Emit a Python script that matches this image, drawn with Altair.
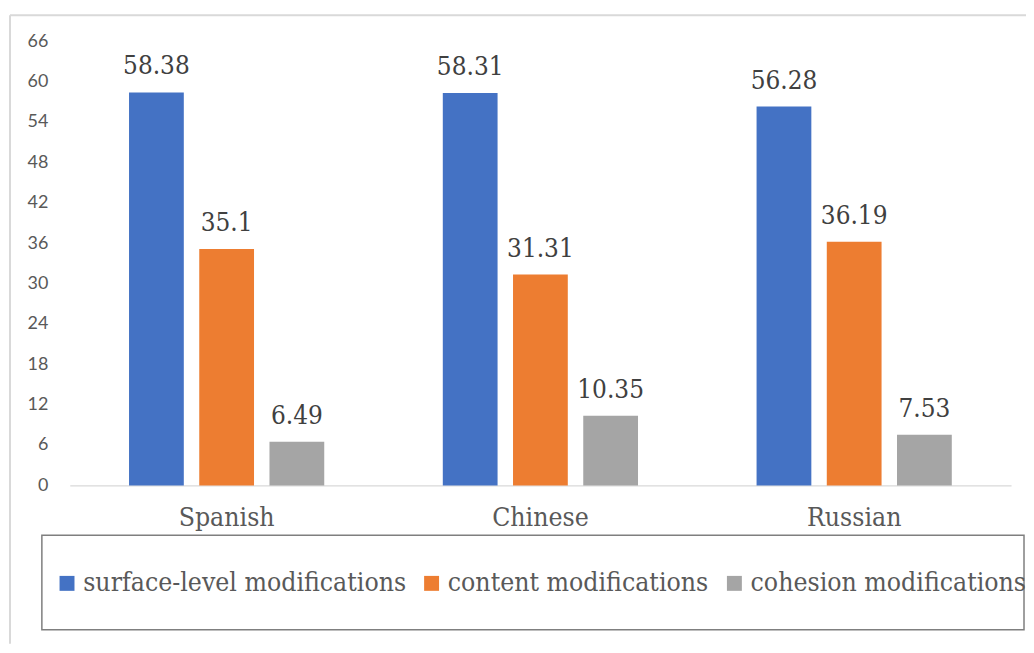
import altair as alt
import pandas as pd

languages = ["Spanish", "Chinese", "Russian"]
series = ["surface-level modifications", "content modifications", "cohesion modifications"]
surface = [58.38, 58.31, 56.28]
content = [35.1, 31.31, 36.19]
cohesion = [6.49, 10.35, 7.53]
colors = ["#4472C4", "#ED7D31", "#A5A5A5"]
y_ticks = [0, 6, 12, 18, 24, 30, 36, 42, 48, 54, 60, 66]

rows = []
for s, vals in zip(series, [surface, content, cohesion]):
    for lang, v in zip(languages, vals):
        rows.append({"language": lang, "series": s, "value": v, "label": str(v)})
df = pd.DataFrame(rows)

SERIF = "'DejaVu Serif Condensed', 'DejaVu Serif'"

x_enc = alt.X("language:N", sort=languages,
              scale=alt.Scale(paddingInner=0.3286, paddingOuter=0.1643),
              axis=alt.Axis(title=None, labelAngle=0, labelFont=SERIF, labelFontSize=26.5,
                            labelColor="#595959", labelPadding=19, ticks=False,
                            domainColor="#D9D9D9", domainWidth=1.5))
xoff = alt.XOffset("series:N", sort=series,
                   scale=alt.Scale(paddingInner=0.22, paddingOuter=0.11))
y_enc = alt.Y("value:Q", scale=alt.Scale(domain=[0, 66], nice=False),
              axis=alt.Axis(title=None, values=y_ticks, grid=False, domain=False, ticks=False,
                            labelFont="Lato", labelFontSize=18, labelColor="#595959",
                            labelPadding=22))

bars = alt.Chart(df).mark_bar().encode(
    x=x_enc, xOffset=xoff, y=y_enc,
    color=alt.Color("series:N", sort=series,
                    scale=alt.Scale(domain=series, range=colors),
                    legend=alt.Legend(title=None, orient="none", direction="horizontal",
                                      legendX=-16, legendY=531,
                                      symbolType="square", symbolSize=225, symbolStrokeWidth=0,
                                      labelFont=SERIF, labelFontSize=26.5, labelColor="#595959",
                                      labelOffset=3, columnPadding=12, labelLimit=600)),
)

texts = alt.Chart(df).mark_text(font=SERIF, fontSize=26, color="#404040",
                                baseline="alphabetic", dy=-18).encode(
    x=alt.X("language:N", sort=languages), xOffset=xoff, y="value:Q", text="label:N"
)

blank = alt.Data(values=[{}])
frame_top = alt.Chart(blank).mark_rule(color="#D9D9D9", strokeWidth=2).encode(
    x=alt.value(-60), x2=alt.value(960), y=alt.value(-26))
frame_left = alt.Chart(blank).mark_rule(color="#D9D9D9", strokeWidth=2).encode(
    x=alt.value(-60), y=alt.value(-26), y2=alt.value(605))
legend_box = alt.Chart(blank).mark_rect(fill=None, stroke="#7F7F7F", strokeWidth=1.5).encode(
    x=alt.value(-28), x2=alt.value(958), y=alt.value(496), y2=alt.value(591))

chart = alt.layer(frame_top, frame_left, legend_box, bars, texts).properties(
    width=945, height=446,
    padding={"left": 62, "top": 32, "right": 15, "bottom": 159},
    autosize=alt.AutoSizeParams(type="none"),
).configure_view(stroke=None)

chart.save("out.html", embed_options={"renderer": "svg", "actions": False})
